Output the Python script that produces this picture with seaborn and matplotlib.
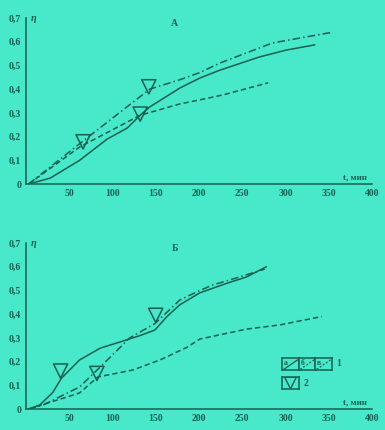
import numpy as np
import pandas as pd
import matplotlib
matplotlib.use("Agg")
import matplotlib.pyplot as plt
import seaborn as sns

# данные, верхний график (А)
xa_A = [3, 28, 62, 94, 117, 132, 143, 178, 201, 224, 270, 301, 334]
ya_A = [0, 0.025, 0.10, 0.19, 0.236, 0.29, 0.325, 0.405, 0.447, 0.48, 0.536, 0.565, 0.587]
xb_A = [3, 62, 132, 178, 201, 228, 280]
yb_A = [0, 0.156, 0.29, 0.338, 0.355, 0.376, 0.427]
xv_A = [3, 62, 143, 178, 201, 224, 285, 354]
yv_A = [0, 0.17, 0.40, 0.44, 0.47, 0.51, 0.595, 0.64]
tri_x_A = [66, 132, 142]
tri_y_A = [0.178, 0.295, 0.41]

# данные, нижний график (Б)
xa_B = [3, 16, 31, 41, 62, 86, 109, 132, 149, 163, 178, 201, 232, 255, 278]
ya_B = [0, 0.017, 0.07, 0.13, 0.207, 0.257, 0.283, 0.31, 0.333, 0.39, 0.44, 0.49, 0.53, 0.557, 0.6]
xb_B = [3, 20, 47, 62, 83, 124, 155, 186, 201, 255, 294, 342]
yb_B = [0, 0.02, 0.05, 0.068, 0.135, 0.165, 0.207, 0.26, 0.295, 0.337, 0.355, 0.39]
xv_B = [3, 20, 62, 86, 120, 149, 178, 201, 216, 247, 276]
yv_B = [0, 0.017, 0.093, 0.178, 0.30, 0.36, 0.46, 0.50, 0.523, 0.557, 0.59]
tri_x_B = [40, 82, 150]
tri_y_B = [0.16, 0.15, 0.395]

xticks = [50, 100, 150, 200, 250, 300, 350, 400]
yticks = [0, 0.1, 0.2, 0.3, 0.4, 0.5, 0.6, 0.7]
ylabels = ["0", "0,1", "0,2", "0,3", "0,4", "0,5", "0,6", "0,7"]

bg = "#48e8cb"
ink = "#17604f"
dash_b = (3.5, 2)
dash_v = (5, 2, 1, 2)

sns.set_style("white")
plt.rcParams["font.family"] = ["Liberation Serif", "DejaVu Serif"]

fig = plt.figure(figsize=(3.85, 4.3), dpi=100, facecolor=bg)
axA = fig.add_axes([0.0675, 0.572, 0.8985, 0.386])
axB = fig.add_axes([0.0675, 0.0488, 0.8985, 0.386])


def draw(ax, xa, ya, xb, yb, xv, yv, tx, ty, title):
    ax.set_facecolor(bg)
    sns.lineplot(x=xa, y=ya, ax=ax, color=ink, lw=1.1, sort=False)
    l = sns.lineplot(x=xb, y=yb, ax=ax, color=ink, lw=1.1, sort=False).lines[-1]
    l.set_dashes(dash_b)
    l = sns.lineplot(x=xv, y=yv, ax=ax, color=ink, lw=1.1, sort=False).lines[-1]
    l.set_dashes(dash_v)
    sns.scatterplot(x=tx, y=ty, ax=ax, marker="v", s=105, facecolor="none",
                    edgecolor=ink, linewidth=1.1, zorder=5)
    ax.set_xlim(0, 400)
    ax.set_ylim(0, 0.7)
    ax.set_xticks(xticks)
    ax.set_xticklabels([str(v) for v in xticks])
    ax.set_yticks(yticks)
    ax.set_yticklabels(ylabels)
    for s in ["top", "right"]:
        ax.spines[s].set_visible(False)
    for s in ["left", "bottom"]:
        ax.spines[s].set_color(ink)
        ax.spines[s].set_linewidth(1.1)
    ax.tick_params(colors=ink, labelsize=7, length=3, width=0.8,
                   direction="inout", pad=2)
    for lab in ax.get_xticklabels() + ax.get_yticklabels():
        lab.set_fontweight("bold")
    ax.text(0.015, 1.0, "η", transform=ax.transAxes, color=ink,
            fontsize=7.5, style="italic", fontweight="bold",
            va="center", ha="left")
    ax.text(0.985, 0.015, "t, мин", transform=ax.transAxes, color=ink,
            fontsize=6.5, fontweight="bold", va="bottom", ha="right")
    ax.text(0.43, 0.97, title, transform=ax.transAxes, color=ink,
            fontsize=7, fontweight="bold", ha="center", va="center")


draw(axA, xa_A, ya_A, xb_A, yb_A, xv_A, yv_A, tri_x_A, tri_y_A, "А")
draw(axB, xa_B, ya_B, xb_B, yb_B, xv_B, yv_B, tri_x_B, tri_y_B, "Б")

# легенда: ячейки а, б, в и треугольник
cells = [("а", None), ("б", dash_b), ("в", dash_v)]
cw, ch = 16.5 / 385, 12 / 430
x0, y0 = 282 / 385, 1 - 370 / 430
for i, (lab, d) in enumerate(cells):
    c = fig.add_axes([x0 + i * cw, y0, cw, ch])
    c.set_facecolor(bg)
    c.set_xlim(0, 1)
    c.set_ylim(0, 1)
    c.set_xticks([])
    c.set_yticks([])
    for s in c.spines.values():
        s.set_color(ink)
        s.set_linewidth(1.1)
    ln, = c.plot([0.1, 0.95], [0.05, 0.85], color=ink, lw=0.9)
    if d is not None:
        ln.set_dashes((1.5, 1.5))
    c.text(0.12, 0.9, lab, color=ink, fontsize=5.5, fontweight="bold",
           ha="left", va="top")
fig.text(x0 + 3 * cw + 0.012, y0 + ch / 2, "1", color=ink, fontsize=7,
         fontweight="bold", ha="left", va="center")
t = fig.add_axes([x0, 1 - 389 / 430, 17 / 385, 12 / 430])
t.set_facecolor(bg)
t.set_xlim(0, 1)
t.set_ylim(0, 1)
t.set_xticks([])
t.set_yticks([])
for s in t.spines.values():
    s.set_color(ink)
    s.set_linewidth(1.1)
t.scatter([0.5], [0.5], marker="v", s=70, facecolor="none", edgecolor=ink,
          linewidth=1.0)
fig.text(x0 + 17 / 385 + 0.012, 1 - 383 / 430, "2", color=ink, fontsize=7,
         fontweight="bold", ha="left", va="center")

fig.savefig("out.png", dpi=100, facecolor=bg)
